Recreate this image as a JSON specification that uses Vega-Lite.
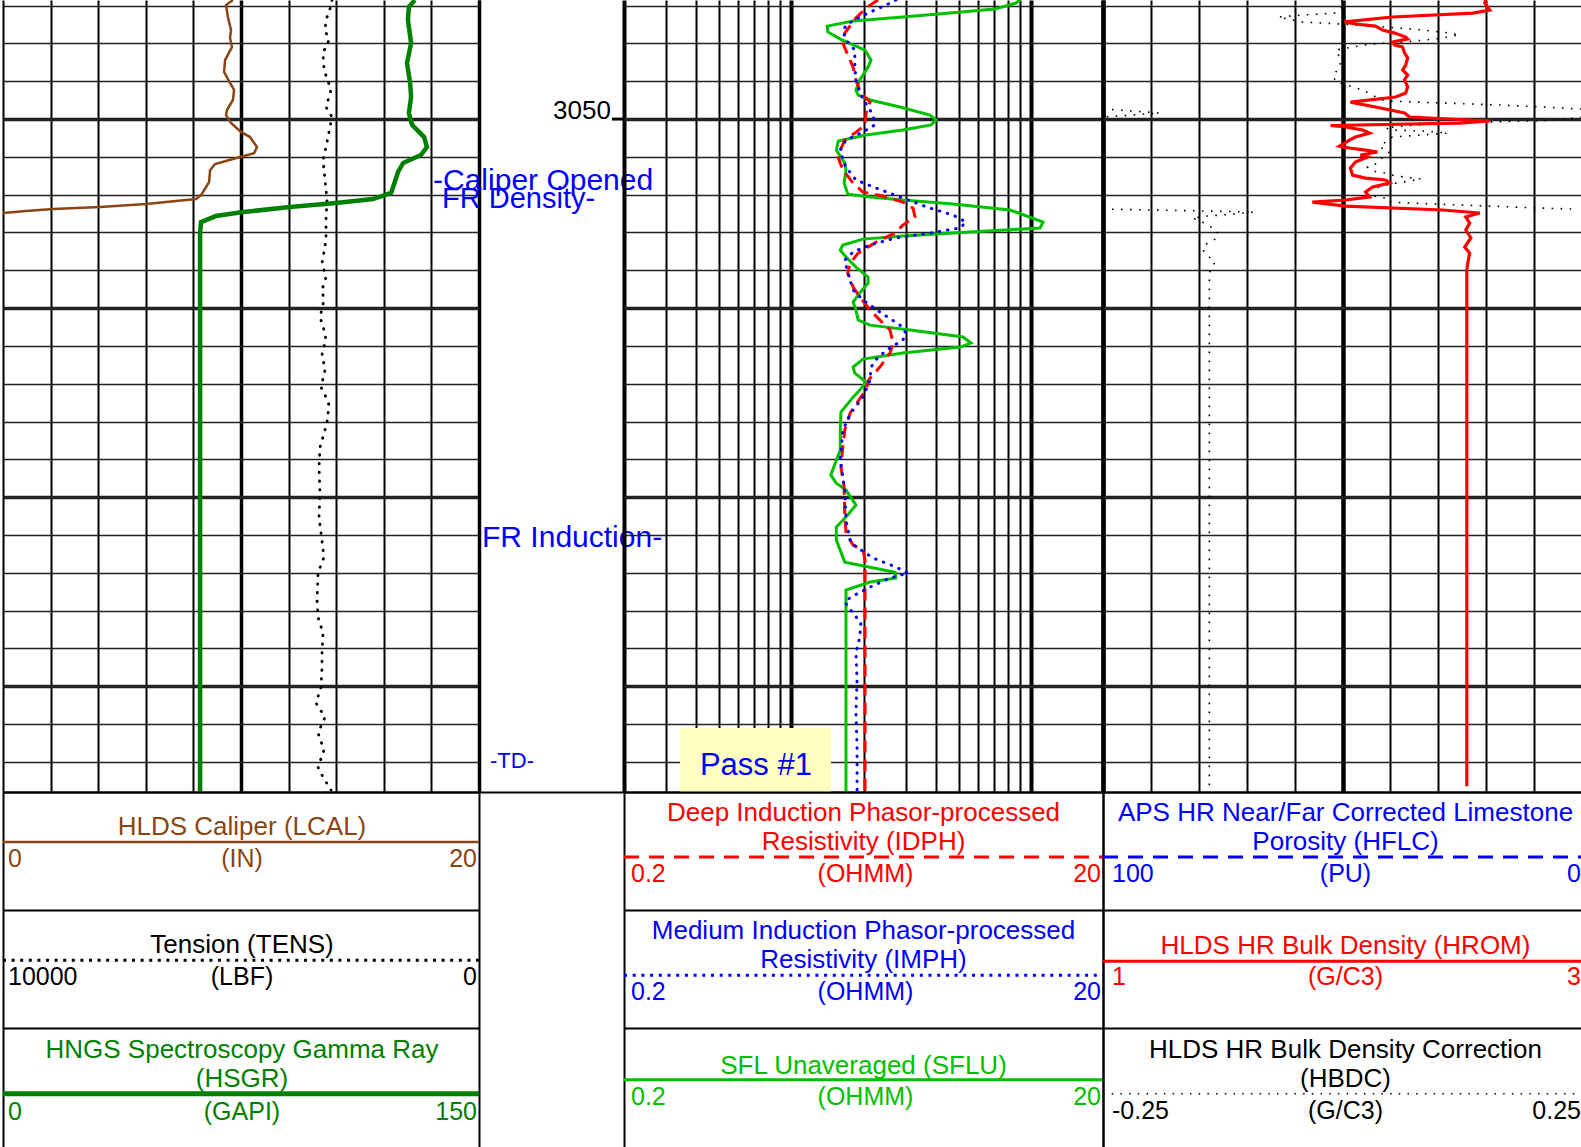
{
"$schema": "https://vega.github.io/schema/vega-lite/v6.json",
"background": "white",
"padding": 0,
"config": {"view": {"stroke": null}, "text": {"font": "Liberation Sans"}},
"datasets": {
"lcal": [{"depth":3043.70,"value":9.66},{"depth":3043.97,"value":9.37},{"depth":3044.60,"value":9.45},{"depth":3045.29,"value":9.58},{"depth":3045.71,"value":9.54},{"depth":3046.19,"value":9.62},{"depth":3046.88,"value":9.33},{"depth":3047.51,"value":9.29},{"depth":3048.09,"value":9.54},{"depth":3048.46,"value":9.71},{"depth":3048.99,"value":9.66},{"depth":3049.52,"value":9.41},{"depth":3049.79,"value":9.37},{"depth":3050.21,"value":9.58},{"depth":3050.68,"value":10.00},{"depth":3050.95,"value":10.38},{"depth":3051.48,"value":10.67},{"depth":3051.80,"value":10.55},{"depth":3052.01,"value":9.96},{"depth":3052.38,"value":8.91},{"depth":3052.70,"value":8.70},{"depth":3053.33,"value":8.66},{"depth":3054.02,"value":8.32},{"depth":3054.23,"value":8.11},{"depth":3054.49,"value":6.01},{"depth":3054.65,"value":4.08},{"depth":3054.76,"value":2.10},{"depth":3054.86,"value":0.97},{"depth":3054.97,"value":0.00}],
"hsgr": [{"depth":3043.70,"value":129.8},{"depth":3044.07,"value":127.9},{"depth":3044.76,"value":127.6},{"depth":3045.98,"value":128.6},{"depth":3047.03,"value":127.3},{"depth":3048.09,"value":128.3},{"depth":3048.83,"value":128.6},{"depth":3049.68,"value":127.9},{"depth":3050.31,"value":128.9},{"depth":3050.95,"value":132.7},{"depth":3051.48,"value":133.6},{"depth":3051.90,"value":131.7},{"depth":3052.32,"value":126.1},{"depth":3052.80,"value":124.5},{"depth":3053.91,"value":122.3},{"depth":3054.23,"value":116.6},{"depth":3054.44,"value":104.9},{"depth":3054.65,"value":90.4},{"depth":3054.92,"value":75.6},{"depth":3055.13,"value":67.1},{"depth":3055.45,"value":62.4},{"depth":3056.03,"value":62.1},{"depth":3085.60,"value":62.1}],
"tens": [{"depth":3043.70,"value":3090},{"depth":3043.86,"value":3088},{"depth":3044.76,"value":3214},{"depth":3045.29,"value":3235},{"depth":3045.82,"value":3151},{"depth":3046.50,"value":3277},{"depth":3047.40,"value":3256},{"depth":3048.46,"value":3109},{"depth":3049.36,"value":3214},{"depth":3049.89,"value":3088},{"depth":3050.42,"value":3130},{"depth":3051.48,"value":3214},{"depth":3052.17,"value":3277},{"depth":3053.22,"value":3235},{"depth":3054.28,"value":3193},{"depth":3055.34,"value":3214},{"depth":3056.40,"value":3214},{"depth":3057.62,"value":3298},{"depth":3058.36,"value":3214},{"depth":3059.04,"value":3298},{"depth":3059.57,"value":3256},{"depth":3060.47,"value":3340},{"depth":3061.16,"value":3256},{"depth":3061.69,"value":3214},{"depth":3062.38,"value":3298},{"depth":3063.28,"value":3235},{"depth":3064.18,"value":3319},{"depth":3064.71,"value":3214},{"depth":3065.13,"value":3151},{"depth":3066.03,"value":3193},{"depth":3066.45,"value":3235},{"depth":3067.35,"value":3340},{"depth":3068.41,"value":3361},{"depth":3069.79,"value":3340},{"depth":3071.05,"value":3361},{"depth":3071.90,"value":3319},{"depth":3073.17,"value":3256},{"depth":3074.02,"value":3382},{"depth":3075.45,"value":3403},{"depth":3076.35,"value":3382},{"depth":3077.19,"value":3277},{"depth":3078.25,"value":3298},{"depth":3078.99,"value":3298},{"depth":3080.05,"value":3319},{"depth":3080.90,"value":3424},{"depth":3081.64,"value":3235},{"depth":3082.48,"value":3382},{"depth":3083.38,"value":3256},{"depth":3084.28,"value":3382},{"depth":3084.81,"value":3277},{"depth":3085.50,"value":3109}],
"idph": [{"depth":3043.70,"value":2.30},{"depth":3043.81,"value":2.23},{"depth":3044.12,"value":2.05},{"depth":3044.65,"value":1.86},{"depth":3045.02,"value":1.77},{"depth":3045.45,"value":1.67},{"depth":3045.98,"value":1.64},{"depth":3046.61,"value":1.72},{"depth":3047.25,"value":1.81},{"depth":3047.93,"value":1.86},{"depth":3048.62,"value":1.95},{"depth":3049.10,"value":2.13},{"depth":3049.68,"value":2.05},{"depth":3050.31,"value":2.03},{"depth":3050.74,"value":1.84},{"depth":3051.11,"value":1.67},{"depth":3051.64,"value":1.60},{"depth":3052.06,"value":1.57},{"depth":3052.69,"value":1.64},{"depth":3053.38,"value":1.81},{"depth":3053.86,"value":1.99},{"depth":3054.07,"value":2.41},{"depth":3054.39,"value":2.92},{"depth":3054.71,"value":3.22},{"depth":3055.18,"value":3.28},{"depth":3055.61,"value":2.92},{"depth":3056.03,"value":2.71},{"depth":3056.50,"value":2.26},{"depth":3057.09,"value":1.90},{"depth":3057.62,"value":1.76},{"depth":3058.14,"value":1.72},{"depth":3058.89,"value":1.81},{"depth":3059.41,"value":1.93},{"depth":3060.10,"value":2.13},{"depth":3060.63,"value":2.34},{"depth":3061.16,"value":2.58},{"depth":3061.85,"value":2.66},{"depth":3062.38,"value":2.58},{"depth":3063.12,"value":2.34},{"depth":3063.81,"value":2.10},{"depth":3064.34,"value":2.05},{"depth":3064.71,"value":1.95},{"depth":3065.55,"value":1.76},{"depth":3066.45,"value":1.67},{"depth":3067.35,"value":1.64},{"depth":3068.41,"value":1.61},{"depth":3069.47,"value":1.66},{"depth":3070.84,"value":1.67},{"depth":3071.90,"value":1.69},{"depth":3072.54,"value":1.81},{"depth":3072.80,"value":1.99},{"depth":3073.33,"value":2.03},{"depth":3085.60,"value":2.03}],
"imph": [{"depth":3043.70,"value":2.73},{"depth":3043.97,"value":2.48},{"depth":3044.34,"value":2.13},{"depth":3044.60,"value":1.93},{"depth":3045.02,"value":1.69},{"depth":3045.39,"value":1.64},{"depth":3045.92,"value":1.72},{"depth":3046.35,"value":1.84},{"depth":3047.25,"value":1.84},{"depth":3047.93,"value":1.86},{"depth":3048.62,"value":1.93},{"depth":3049.36,"value":2.09},{"depth":3049.78,"value":2.19},{"depth":3050.31,"value":2.23},{"depth":3050.68,"value":1.99},{"depth":3051.11,"value":1.69},{"depth":3051.64,"value":1.60},{"depth":3052.17,"value":1.64},{"depth":3052.54,"value":1.69},{"depth":3053.22,"value":1.86},{"depth":3053.65,"value":2.26},{"depth":3054.18,"value":2.92},{"depth":3054.71,"value":3.79},{"depth":3055.08,"value":4.73},{"depth":3055.45,"value":5.36},{"depth":3055.76,"value":5.06},{"depth":3056.03,"value":3.79},{"depth":3056.29,"value":2.73},{"depth":3056.66,"value":2.13},{"depth":3057.03,"value":1.81},{"depth":3057.46,"value":1.67},{"depth":3058.14,"value":1.72},{"depth":3059.04,"value":1.81},{"depth":3059.57,"value":1.99},{"depth":3060.21,"value":2.34},{"depth":3060.90,"value":2.84},{"depth":3061.32,"value":3.01},{"depth":3061.69,"value":2.92},{"depth":3062.11,"value":2.58},{"depth":3062.59,"value":2.30},{"depth":3063.12,"value":2.15},{"depth":3063.81,"value":2.13},{"depth":3064.71,"value":1.99},{"depth":3065.55,"value":1.77},{"depth":3066.45,"value":1.64},{"depth":3068.04,"value":1.60},{"depth":3069.63,"value":1.67},{"depth":3071.21,"value":1.69},{"depth":3072.43,"value":1.77},{"depth":3073.22,"value":2.19},{"depth":3073.70,"value":2.73},{"depth":3074.02,"value":3.07},{"depth":3074.28,"value":2.58},{"depth":3074.76,"value":2.13},{"depth":3075.29,"value":1.77},{"depth":3075.55,"value":1.67},{"depth":3075.98,"value":1.77},{"depth":3076.66,"value":1.95},{"depth":3077.40,"value":1.93},{"depth":3078.25,"value":1.86},{"depth":3079.68,"value":1.88},{"depth":3081.43,"value":1.86},{"depth":3083.22,"value":1.88},{"depth":3085.60,"value":1.88}],
"sflu": [{"depth":3043.70,"value":9.00},{"depth":3043.86,"value":8.66},{"depth":3044.18,"value":7.08},{"depth":3044.39,"value":4.59},{"depth":3044.60,"value":2.92},{"depth":3044.81,"value":1.81},{"depth":3045.08,"value":1.41},{"depth":3045.39,"value":1.42},{"depth":3045.77,"value":1.60},{"depth":3046.35,"value":2.03},{"depth":3046.88,"value":2.15},{"depth":3047.25,"value":2.09},{"depth":3047.93,"value":1.93},{"depth":3048.46,"value":1.86},{"depth":3048.73,"value":1.90},{"depth":3048.99,"value":2.13},{"depth":3049.36,"value":2.84},{"depth":3049.79,"value":3.79},{"depth":3050.05,"value":4.02},{"depth":3050.31,"value":3.83},{"depth":3050.58,"value":2.92},{"depth":3050.84,"value":2.05},{"depth":3051.16,"value":1.57},{"depth":3051.64,"value":1.54},{"depth":3052.32,"value":1.67},{"depth":3052.70,"value":1.69},{"depth":3053.38,"value":1.66},{"depth":3053.97,"value":1.72},{"depth":3054.12,"value":2.13},{"depth":3054.28,"value":2.92},{"depth":3054.49,"value":4.73},{"depth":3054.81,"value":8.18},{"depth":3055.45,"value":11.24},{"depth":3055.76,"value":10.92},{"depth":3055.98,"value":5.57},{"depth":3056.19,"value":2.92},{"depth":3056.35,"value":1.99},{"depth":3056.66,"value":1.64},{"depth":3056.93,"value":1.60},{"depth":3057.30,"value":1.69},{"depth":3057.83,"value":1.86},{"depth":3058.36,"value":2.09},{"depth":3058.67,"value":2.09},{"depth":3059.20,"value":1.93},{"depth":3059.68,"value":1.81},{"depth":3060.10,"value":1.86},{"depth":3060.63,"value":1.90},{"depth":3060.90,"value":2.13},{"depth":3061.16,"value":3.13},{"depth":3061.53,"value":5.21},{"depth":3061.85,"value":5.62},{"depth":3062.06,"value":5.06},{"depth":3062.38,"value":2.92},{"depth":3062.70,"value":1.99},{"depth":3063.12,"value":1.81},{"depth":3063.44,"value":1.84},{"depth":3063.91,"value":2.05},{"depth":3064.34,"value":1.93},{"depth":3064.71,"value":1.81},{"depth":3065.50,"value":1.61},{"depth":3066.45,"value":1.60},{"depth":3067.51,"value":1.60},{"depth":3068.83,"value":1.46},{"depth":3069.26,"value":1.54},{"depth":3069.63,"value":1.69},{"depth":3070.42,"value":1.86},{"depth":3071.05,"value":1.69},{"depth":3071.58,"value":1.54},{"depth":3072.27,"value":1.54},{"depth":3073.44,"value":1.67},{"depth":3073.97,"value":2.71},{"depth":3074.28,"value":2.73},{"depth":3074.49,"value":2.13},{"depth":3074.92,"value":1.69},{"depth":3075.45,"value":1.69},{"depth":3085.60,"value":1.69}],
"hrom": [{"depth":3043.70,"value":2.598},{"depth":3043.86,"value":2.594},{"depth":3044.23,"value":2.615},{"depth":3044.39,"value":2.544},{"depth":3044.60,"value":2.209},{"depth":3044.86,"value":2.008},{"depth":3044.97,"value":2.054},{"depth":3045.08,"value":2.138},{"depth":3045.29,"value":2.167},{"depth":3045.45,"value":2.218},{"depth":3045.66,"value":2.264},{"depth":3045.76,"value":2.272},{"depth":3045.92,"value":2.209},{"depth":3046.08,"value":2.218},{"depth":3046.19,"value":2.251},{"depth":3046.50,"value":2.259},{"depth":3046.77,"value":2.272},{"depth":3047.14,"value":2.264},{"depth":3047.40,"value":2.251},{"depth":3047.67,"value":2.272},{"depth":3047.93,"value":2.259},{"depth":3048.30,"value":2.272},{"depth":3048.62,"value":2.264},{"depth":3048.83,"value":2.222},{"depth":3049.10,"value":2.033},{"depth":3049.36,"value":2.138},{"depth":3049.68,"value":2.259},{"depth":3049.89,"value":2.280},{"depth":3050.10,"value":2.615},{"depth":3050.21,"value":2.490},{"depth":3050.34,"value":1.950},{"depth":3050.42,"value":2.013},{"depth":3050.58,"value":2.084},{"depth":3050.74,"value":2.113},{"depth":3050.95,"value":2.054},{"depth":3051.11,"value":2.029},{"depth":3051.43,"value":1.987},{"depth":3051.53,"value":2.029},{"depth":3051.64,"value":2.096},{"depth":3051.74,"value":2.146},{"depth":3051.90,"value":2.075},{"depth":3052.01,"value":2.105},{"depth":3052.27,"value":2.054},{"depth":3052.59,"value":2.033},{"depth":3052.96,"value":2.042},{"depth":3053.12,"value":2.096},{"depth":3053.22,"value":2.180},{"depth":3053.38,"value":2.197},{"depth":3053.59,"value":2.126},{"depth":3053.86,"value":2.096},{"depth":3054.12,"value":2.113},{"depth":3054.28,"value":2.013},{"depth":3054.39,"value":1.874},{"depth":3054.60,"value":2.013},{"depth":3054.81,"value":2.418},{"depth":3054.97,"value":2.573},{"depth":3055.18,"value":2.515},{"depth":3055.50,"value":2.531},{"depth":3055.87,"value":2.515},{"depth":3056.29,"value":2.536},{"depth":3056.77,"value":2.510},{"depth":3057.09,"value":2.531},{"depth":3057.62,"value":2.523},{"depth":3057.99,"value":2.519},{"depth":3085.29,"value":2.519}],
"hbdc": [{"seg":"a","depth":3043.70,"value":-0.001},{"seg":"a","depth":3043.97,"value":0.002},{"seg":"a","depth":3044.39,"value":-0.007},{"seg":"a","depth":3044.49,"value":-0.040},{"seg":"a","depth":3044.60,"value":-0.067},{"seg":"a","depth":3044.65,"value":-0.063},{"seg":"a","depth":3044.86,"value":-0.042},{"seg":"a","depth":3044.97,"value":-0.002},{"seg":"a","depth":3045.13,"value":0.045},{"seg":"a","depth":3045.29,"value":0.084},{"seg":"a","depth":3045.45,"value":0.112},{"seg":"a","depth":3045.55,"value":0.122},{"seg":"a","depth":3045.76,"value":0.097},{"seg":"a","depth":3045.92,"value":0.065},{"seg":"a","depth":3046.03,"value":0.029},{"seg":"a","depth":3046.19,"value":0.010},{"seg":"a","depth":3046.35,"value":-0.007},{"seg":"a","depth":3046.72,"value":-0.003},{"seg":"a","depth":3047.03,"value":-0.002},{"seg":"a","depth":3047.40,"value":-0.005},{"seg":"a","depth":3047.67,"value":-0.010},{"seg":"a","depth":3048.04,"value":-0.007},{"seg":"a","depth":3048.20,"value":0.005},{"seg":"a","depth":3048.46,"value":0.021},{"seg":"a","depth":3048.89,"value":0.037},{"seg":"a","depth":3049.04,"value":0.045},{"seg":"a","depth":3049.15,"value":0.105},{"seg":"a","depth":3049.26,"value":0.167},{"seg":"a","depth":3049.36,"value":0.209},{"seg":"a","depth":3049.47,"value":0.249},
{"seg":"b","depth":3049.47,"value":-0.25},{"seg":"b","depth":3049.57,"value":-0.220},{"seg":"b","depth":3049.68,"value":-0.191},{"seg":"b","depth":3049.79,"value":-0.220},{"seg":"b","depth":3049.89,"value":-0.25},
{"seg":"c","depth":3049.89,"value":0.25},{"seg":"c","depth":3050.05,"value":0.230},{"seg":"c","depth":3050.16,"value":0.146},{"seg":"c","depth":3050.26,"value":0.094},{"seg":"c","depth":3050.37,"value":0.063},{"seg":"c","depth":3050.47,"value":0.045},{"seg":"c","depth":3050.58,"value":0.052},{"seg":"c","depth":3050.63,"value":0.084},{"seg":"c","depth":3050.74,"value":0.110},{"seg":"c","depth":3050.84,"value":0.084},{"seg":"c","depth":3050.95,"value":0.052},{"seg":"c","depth":3051.11,"value":0.047},{"seg":"c","depth":3051.48,"value":0.039},{"seg":"c","depth":3051.74,"value":0.049},{"seg":"c","depth":3052.01,"value":0.042},{"seg":"c","depth":3052.32,"value":0.037},{"seg":"c","depth":3052.54,"value":0.026},{"seg":"c","depth":3052.75,"value":0.031},{"seg":"c","depth":3052.85,"value":0.044},{"seg":"c","depth":3053.01,"value":0.055},{"seg":"c","depth":3053.17,"value":0.082},{"seg":"c","depth":3053.44,"value":0.050},{"seg":"c","depth":3053.59,"value":0.039},{"seg":"c","depth":3053.75,"value":0.023},{"seg":"c","depth":3054.02,"value":0.028},{"seg":"c","depth":3054.12,"value":0.037},{"seg":"c","depth":3054.18,"value":0.045},{"seg":"c","depth":3054.39,"value":0.047},{"seg":"c","depth":3054.49,"value":0.094},{"seg":"c","depth":3054.63,"value":0.167},{"seg":"c","depth":3054.71,"value":0.209},{"seg":"c","depth":3054.76,"value":0.241},
{"seg":"d","depth":3054.76,"value":-0.25},{"seg":"d","depth":3054.81,"value":-0.199},{"seg":"d","depth":3054.86,"value":-0.146},{"seg":"d","depth":3054.92,"value":-0.092},{"seg":"d","depth":3055.03,"value":-0.115},{"seg":"d","depth":3055.13,"value":-0.141},{"seg":"d","depth":3055.24,"value":-0.157},{"seg":"d","depth":3055.34,"value":-0.150},{"seg":"d","depth":3055.66,"value":-0.139},{"seg":"d","depth":3055.82,"value":-0.133},{"seg":"d","depth":3056.13,"value":-0.129},{"seg":"d","depth":3056.35,"value":-0.133},{"seg":"d","depth":3056.56,"value":-0.141},{"seg":"d","depth":3056.82,"value":-0.146},{"seg":"d","depth":3057.09,"value":-0.144},{"seg":"d","depth":3057.30,"value":-0.139},{"seg":"d","depth":3057.56,"value":-0.133},{"seg":"d","depth":3057.83,"value":-0.136},{"seg":"d","depth":3058.14,"value":-0.139},{"seg":"d","depth":3085.29,"value":-0.139}]
},
"columns": 4,
"spacing": 0,
"bounds": "flush",
"resolve": {"scale": {"color": "independent", "strokeDash": "independent", "strokeWidth": "independent"}},
"concat": [
 {"width": 476, "height": 792,
  "resolve": {"scale": {"x": "independent"}},
  "layer": [
   {"data": {"name": "tens"}, "mark": {"type": "line", "color": "black", "strokeWidth": 2.8, "strokeDash": [0.5, 8.2], "strokeCap": "round", "clip": true},
    "encoding": {
     "x": {"field": "value", "type": "quantitative", "scale": {"domain": [0, 10000], "reverse": true, "nice": false, "zero": false}, "axis": {"orient": "bottom", "values": [0, 1000, 2000, 3000, 4000, 5000, 6000, 7000, 8000, 9000, 10000], "tickCount": 100, "grid": true, "gridColor": "black", "gridWidth": {"condition": {"test": "datum.value === 5000 || datum.value === 0", "value": 3.5}, "value": 2}, "domain": true, "domainColor": "black", "domainWidth": 2, "ticks": false, "labels": false, "title": null}},
     "y": {"field": "depth", "type": "quantitative", "scale": {"domain": [3043.7, 3085.6], "reverse": true, "nice": false, "zero": false}, "axis": {"values": [3044,3046,3048,3050,3052,3054,3056,3058,3060,3062,3064,3066,3068,3070,3072,3074,3076,3078,3080,3082,3084], "tickCount": 100, "grid": true, "gridColor": "#222222", "gridWidth": {"condition": {"test": "datum.value % 10 === 0", "value": 3.5}, "value": 1.5}, "domain": false, "ticks": false, "labels": false, "title": null}},
     "order": {"field": "depth", "type": "quantitative"}}},
   {"data": {"name": "lcal"}, "mark": {"type": "line", "color": "#8B4513", "strokeWidth": 2.5, "clip": true},
    "encoding": {
     "x": {"field": "value", "type": "quantitative", "scale": {"domain": [0, 20], "nice": false, "zero": false}, "axis": null},
     "y": {"field": "depth", "type": "quantitative", "scale": {"domain": [3043.7, 3085.6], "reverse": true, "nice": false, "zero": false}, "axis": {"values": [3044,3046,3048,3050,3052,3054,3056,3058,3060,3062,3064,3066,3068,3070,3072,3074,3076,3078,3080,3082,3084], "tickCount": 100, "grid": true, "gridColor": "#222222", "gridWidth": {"condition": {"test": "datum.value % 10 === 0", "value": 3.5}, "value": 1.5}, "domain": false, "ticks": false, "labels": false, "title": null}},
     "order": {"field": "depth", "type": "quantitative"}}},
   {"data": {"name": "hsgr"}, "mark": {"type": "line", "color": "#008000", "strokeWidth": 4.5, "clip": true},
    "encoding": {
     "x": {"field": "value", "type": "quantitative", "scale": {"domain": [0, 150], "nice": false, "zero": false}, "axis": null},
     "y": {"field": "depth", "type": "quantitative", "scale": {"domain": [3043.7, 3085.6], "reverse": true, "nice": false, "zero": false}, "axis": {"values": [3044,3046,3048,3050,3052,3054,3056,3058,3060,3062,3064,3066,3068,3070,3072,3074,3076,3078,3080,3082,3084], "tickCount": 100, "grid": true, "gridColor": "#222222", "gridWidth": {"condition": {"test": "datum.value % 10 === 0", "value": 3.5}, "value": 1.5}, "domain": false, "ticks": false, "labels": false, "title": null}},
     "order": {"field": "depth", "type": "quantitative"}}}
  ]},
 {"width": 145, "height": 792,
  "layer": [
   {"data": {"values": [{"depth": 3050, "label": "3050"}]},
    "mark": {"type": "rule", "color": "black", "strokeWidth": 3},
    "encoding": {
     "x": {"datum": 0.917, "type": "quantitative", "scale": {"domain": [0, 1], "nice": false, "zero": false}, "axis": {"values": [0], "tickCount": 100, "grid": true, "gridColor": "black", "gridWidth": 3, "domain": true, "domainColor": "black", "domainWidth": 2, "ticks": false, "labels": false, "title": null}},
     "x2": {"datum": 1},
     "y": {"field": "depth", "type": "quantitative", "scale": {"domain": [3043.7, 3085.6], "reverse": true, "nice": false, "zero": false}, "axis": null}}},
   {"data": {"values": [{"depth": 3050, "label": "3050"}]},
    "mark": {"type": "text", "align": "right", "baseline": "alphabetic", "fontSize": 26, "color": "black"},
    "encoding": {
     "x": {"datum": 0.91, "type": "quantitative", "scale": {"domain": [0, 1], "nice": false, "zero": false}, "axis": {"values": [0], "tickCount": 100, "grid": true, "gridColor": "black", "gridWidth": 3, "domain": true, "domainColor": "black", "domainWidth": 2, "ticks": false, "labels": false, "title": null}},
     "y": {"field": "depth", "type": "quantitative", "scale": {"domain": [3043.7, 3085.6], "reverse": true, "nice": false, "zero": false}, "axis": null},
     "text": {"field": "label"}}},
   {"data": {"values": [{"remark": "-Caliper Opened", "depth": 3053.75}]},
    "mark": {"type": "text", "align": "left", "baseline": "alphabetic", "fontSize": 30, "color": "#0000ff"},
    "encoding": {
     "x": {"datum": -0.317, "type": "quantitative", "scale": {"domain": [0, 1], "nice": false, "zero": false}, "axis": {"values": [0], "tickCount": 100, "grid": true, "gridColor": "black", "gridWidth": 3, "domain": true, "domainColor": "black", "domainWidth": 2, "ticks": false, "labels": false, "title": null}},
     "y": {"field": "depth", "type": "quantitative", "scale": {"domain": [3043.7, 3085.6], "reverse": true, "nice": false, "zero": false}, "axis": null},
     "text": {"field": "remark"}}},
   {"data": {"values": [{"remark": "FR Density-", "depth": 3054.71}]},
    "mark": {"type": "text", "align": "left", "baseline": "alphabetic", "fontSize": 29, "color": "#0000ff"},
    "encoding": {
     "x": {"datum": -0.255, "type": "quantitative", "scale": {"domain": [0, 1], "nice": false, "zero": false}, "axis": {"values": [0], "tickCount": 100, "grid": true, "gridColor": "black", "gridWidth": 3, "domain": true, "domainColor": "black", "domainWidth": 2, "ticks": false, "labels": false, "title": null}},
     "y": {"field": "depth", "type": "quantitative", "scale": {"domain": [3043.7, 3085.6], "reverse": true, "nice": false, "zero": false}, "axis": null},
     "text": {"field": "remark"}}},
   {"data": {"values": [{"remark": "FR Induction-", "depth": 3072.63}]},
    "mark": {"type": "text", "align": "left", "baseline": "alphabetic", "fontSize": 30, "color": "#0000ff"},
    "encoding": {
     "x": {"datum": 0.021, "type": "quantitative", "scale": {"domain": [0, 1], "nice": false, "zero": false}, "axis": {"values": [0], "tickCount": 100, "grid": true, "gridColor": "black", "gridWidth": 3, "domain": true, "domainColor": "black", "domainWidth": 2, "ticks": false, "labels": false, "title": null}},
     "y": {"field": "depth", "type": "quantitative", "scale": {"domain": [3043.7, 3085.6], "reverse": true, "nice": false, "zero": false}, "axis": null},
     "text": {"field": "remark"}}},
   {"data": {"values": [{"remark": "-TD-", "depth": 3084.35}]},
    "mark": {"type": "text", "align": "left", "baseline": "alphabetic", "fontSize": 22, "color": "#0000ff"},
    "encoding": {
     "x": {"datum": 0.076, "type": "quantitative", "scale": {"domain": [0, 1], "nice": false, "zero": false}, "axis": {"values": [0], "tickCount": 100, "grid": true, "gridColor": "black", "gridWidth": 3, "domain": true, "domainColor": "black", "domainWidth": 2, "ticks": false, "labels": false, "title": null}},
     "y": {"field": "depth", "type": "quantitative", "scale": {"domain": [3043.7, 3085.6], "reverse": true, "nice": false, "zero": false}, "axis": null},
     "text": {"field": "remark"}}}
  ]},
 {"width": 479, "height": 792,
  "layer": [
   {"data": {"values": [{"pass": "Pass #1"}]},
    "mark": {"type": "rect", "color": "#ffffc0"},
    "encoding": {
     "x": {"datum": 0.343, "type": "quantitative", "scale": {"type": "log", "domain": [0.2, 20], "nice": false}, "axis": {"orient": "bottom", "values": [0.2, 0.3, 0.4, 0.5, 0.6, 0.7, 0.8, 0.9, 1, 2, 3, 4, 5, 6, 7, 8, 9, 10, 20], "tickCount": 100, "grid": true, "gridColor": "black", "gridWidth": {"condition": {"test": "datum.value === 0.2 || datum.value === 1 || datum.value === 10 || datum.value === 20", "value": 4}, "value": 2}, "domain": true, "domainColor": "black", "domainWidth": 2, "ticks": false, "labels": false, "title": null}},
     "x2": {"datum": 1.464},
     "y": {"datum": 3082.22, "type": "quantitative", "scale": {"domain": [3043.7, 3085.6], "reverse": true, "nice": false, "zero": false}, "axis": {"values": [3044,3046,3048,3050,3052,3054,3056,3058,3060,3062,3064,3066,3068,3070,3072,3074,3076,3078,3080,3082,3084], "tickCount": 100, "grid": true, "gridColor": "#222222", "gridWidth": {"condition": {"test": "datum.value % 10 === 0", "value": 3.5}, "value": 1.5}, "domain": false, "ticks": false, "labels": false, "title": null}},
     "y2": {"datum": 3085.6}}},
   {"data": {"name": "sflu"}, "mark": {"type": "line", "color": "#00c000", "strokeWidth": 3, "clip": true},
    "encoding": {
     "x": {"field": "value", "type": "quantitative", "scale": {"type": "log", "domain": [0.2, 20], "nice": false}, "axis": {"orient": "bottom", "values": [0.2, 0.3, 0.4, 0.5, 0.6, 0.7, 0.8, 0.9, 1, 2, 3, 4, 5, 6, 7, 8, 9, 10, 20], "tickCount": 100, "grid": true, "gridColor": "black", "gridWidth": {"condition": {"test": "datum.value === 0.2 || datum.value === 1 || datum.value === 10 || datum.value === 20", "value": 4}, "value": 2}, "domain": true, "domainColor": "black", "domainWidth": 2, "ticks": false, "labels": false, "title": null}},
     "y": {"field": "depth", "type": "quantitative", "scale": {"domain": [3043.7, 3085.6], "reverse": true, "nice": false, "zero": false}, "axis": {"values": [3044,3046,3048,3050,3052,3054,3056,3058,3060,3062,3064,3066,3068,3070,3072,3074,3076,3078,3080,3082,3084], "tickCount": 100, "grid": true, "gridColor": "#222222", "gridWidth": {"condition": {"test": "datum.value % 10 === 0", "value": 3.5}, "value": 1.5}, "domain": false, "ticks": false, "labels": false, "title": null}},
     "order": {"field": "depth", "type": "quantitative"}}},
   {"data": {"values": [{"pass": "Pass #1"}]},
    "mark": {"type": "text", "align": "center", "baseline": "alphabetic", "fontSize": 31, "color": "#0000ff"},
    "encoding": {
     "x": {"datum": 0.711, "type": "quantitative", "scale": {"type": "log", "domain": [0.2, 20], "nice": false}, "axis": {"orient": "bottom", "values": [0.2, 0.3, 0.4, 0.5, 0.6, 0.7, 0.8, 0.9, 1, 2, 3, 4, 5, 6, 7, 8, 9, 10, 20], "tickCount": 100, "grid": true, "gridColor": "black", "gridWidth": {"condition": {"test": "datum.value === 0.2 || datum.value === 1 || datum.value === 10 || datum.value === 20", "value": 4}, "value": 2}, "domain": true, "domainColor": "black", "domainWidth": 2, "ticks": false, "labels": false, "title": null}},
     "y": {"datum": 3084.71, "type": "quantitative", "scale": {"domain": [3043.7, 3085.6], "reverse": true, "nice": false, "zero": false}, "axis": {"values": [3044,3046,3048,3050,3052,3054,3056,3058,3060,3062,3064,3066,3068,3070,3072,3074,3076,3078,3080,3082,3084], "tickCount": 100, "grid": true, "gridColor": "#222222", "gridWidth": {"condition": {"test": "datum.value % 10 === 0", "value": 3.5}, "value": 1.5}, "domain": false, "ticks": false, "labels": false, "title": null}},
     "text": {"field": "pass"}}},
   {"data": {"name": "idph"}, "mark": {"type": "line", "color": "#ff0000", "strokeWidth": 3, "strokeDash": [12, 7], "clip": true},
    "encoding": {
     "x": {"field": "value", "type": "quantitative", "scale": {"type": "log", "domain": [0.2, 20], "nice": false}, "axis": {"orient": "bottom", "values": [0.2, 0.3, 0.4, 0.5, 0.6, 0.7, 0.8, 0.9, 1, 2, 3, 4, 5, 6, 7, 8, 9, 10, 20], "tickCount": 100, "grid": true, "gridColor": "black", "gridWidth": {"condition": {"test": "datum.value === 0.2 || datum.value === 1 || datum.value === 10 || datum.value === 20", "value": 4}, "value": 2}, "domain": true, "domainColor": "black", "domainWidth": 2, "ticks": false, "labels": false, "title": null}},
     "y": {"field": "depth", "type": "quantitative", "scale": {"domain": [3043.7, 3085.6], "reverse": true, "nice": false, "zero": false}, "axis": {"values": [3044,3046,3048,3050,3052,3054,3056,3058,3060,3062,3064,3066,3068,3070,3072,3074,3076,3078,3080,3082,3084], "tickCount": 100, "grid": true, "gridColor": "#222222", "gridWidth": {"condition": {"test": "datum.value % 10 === 0", "value": 3.5}, "value": 1.5}, "domain": false, "ticks": false, "labels": false, "title": null}},
     "order": {"field": "depth", "type": "quantitative"}}},
   {"data": {"name": "imph"}, "mark": {"type": "line", "color": "#0000ff", "strokeWidth": 3, "strokeDash": [0.5, 7.8], "strokeCap": "round", "clip": true},
    "encoding": {
     "x": {"field": "value", "type": "quantitative", "scale": {"type": "log", "domain": [0.2, 20], "nice": false}, "axis": {"orient": "bottom", "values": [0.2, 0.3, 0.4, 0.5, 0.6, 0.7, 0.8, 0.9, 1, 2, 3, 4, 5, 6, 7, 8, 9, 10, 20], "tickCount": 100, "grid": true, "gridColor": "black", "gridWidth": {"condition": {"test": "datum.value === 0.2 || datum.value === 1 || datum.value === 10 || datum.value === 20", "value": 4}, "value": 2}, "domain": true, "domainColor": "black", "domainWidth": 2, "ticks": false, "labels": false, "title": null}},
     "y": {"field": "depth", "type": "quantitative", "scale": {"domain": [3043.7, 3085.6], "reverse": true, "nice": false, "zero": false}, "axis": {"values": [3044,3046,3048,3050,3052,3054,3056,3058,3060,3062,3064,3066,3068,3070,3072,3074,3076,3078,3080,3082,3084], "tickCount": 100, "grid": true, "gridColor": "#222222", "gridWidth": {"condition": {"test": "datum.value % 10 === 0", "value": 3.5}, "value": 1.5}, "domain": false, "ticks": false, "labels": false, "title": null}},
     "order": {"field": "depth", "type": "quantitative"}}}
  ]},
 {"width": 479, "height": 792,
  "resolve": {"scale": {"x": "independent"}},
  "layer": [
   {"data": {"name": "hbdc"}, "mark": {"type": "line", "color": "black", "strokeWidth": 1.6, "strokeDash": [1.6, 7.4], "clip": true},
    "encoding": {
     "x": {"field": "value", "type": "quantitative", "scale": {"domain": [-0.25, 0.25], "nice": false, "zero": false}, "axis": {"orient": "bottom", "values": [-0.25, -0.2, -0.15, -0.1, -0.05, 0, 0.05, 0.1, 0.15, 0.2, 0.25], "tickCount": 100, "grid": true, "gridColor": "black", "gridWidth": {"condition": {"test": "datum.value === -0.25 || datum.value === 0", "value": 4.5}, "value": 2}, "domain": true, "domainColor": "black", "domainWidth": 2, "ticks": false, "labels": false, "title": null}},
     "y": {"field": "depth", "type": "quantitative", "scale": {"domain": [3043.7, 3085.6], "reverse": true, "nice": false, "zero": false}, "axis": {"values": [3044,3046,3048,3050,3052,3054,3056,3058,3060,3062,3064,3066,3068,3070,3072,3074,3076,3078,3080,3082,3084], "tickCount": 100, "grid": true, "gridColor": "#222222", "gridWidth": {"condition": {"test": "datum.value % 10 === 0", "value": 3.5}, "value": 1.5}, "domain": false, "ticks": false, "labels": false, "title": null}},
     "detail": {"field": "seg", "type": "nominal"},
     "order": {"field": "depth", "type": "quantitative"}}},
   {"data": {"name": "hrom"}, "mark": {"type": "line", "color": "#ff0000", "strokeWidth": 3.2, "clip": true},
    "encoding": {
     "x": {"field": "value", "type": "quantitative", "scale": {"domain": [1, 3], "nice": false, "zero": false}, "axis": null},
     "y": {"field": "depth", "type": "quantitative", "scale": {"domain": [3043.7, 3085.6], "reverse": true, "nice": false, "zero": false}, "axis": {"values": [3044,3046,3048,3050,3052,3054,3056,3058,3060,3062,3064,3066,3068,3070,3072,3074,3076,3078,3080,3082,3084], "tickCount": 100, "grid": true, "gridColor": "#222222", "gridWidth": {"condition": {"test": "datum.value % 10 === 0", "value": 3.5}, "value": 1.5}, "domain": false, "ticks": false, "labels": false, "title": null}},
     "order": {"field": "depth", "type": "quantitative"}}}
  ]},
 {"width": 476, "height": 355,
  "data": {"values": [
   {"curve": "LCAL", "name": "HLDS Caliper (LCAL)", "unit": "(IN)", "lo": "0", "hi": "20"},
   {"curve": "TENS", "name": "Tension (TENS)", "unit": "(LBF)", "lo": "10000", "hi": "0"},
   {"curve": "HSGR", "name": "HNGS Spectroscopy Gamma Ray\n(HSGR)", "unit": "(GAPI)", "lo": "0", "hi": "150"}]},
  "encoding": {
   "y": {"field": "curve", "type": "nominal", "bandPosition": 0, "scale": {"domain": ["LCAL", "TENS", "HSGR"], "paddingInner": 0, "paddingOuter": 0}, "axis": {"bandPosition": 0, "grid": true, "gridColor": "black", "gridWidth": 2, "domain": false, "ticks": false, "labels": false, "title": null}},
   "color": {"field": "curve", "type": "nominal", "scale": {"domain": ["LCAL", "TENS", "HSGR"], "range": ["#8B4513", "#000000", "#008000"]}, "legend": null}
  },
  "layer": [
   {"transform": [{"filter": "indexof(datum.name, '\\n') < 0"}],
    "mark": {"type": "rule", "yOffset": 50, "strokeCap": "butt"},
    "encoding": {
     "x": {"datum": 0, "type": "quantitative", "scale": {"domain": [0, 1], "nice": false, "zero": false}, "axis": {"values": [0, 1], "grid": true, "gridColor": "black", "gridWidth": 2, "domain": false, "ticks": false, "labels": false, "title": null}},
     "x2": {"datum": 1},
     "strokeDash": {"field": "curve", "type": "nominal", "scale": {"domain": ["LCAL", "TENS", "HSGR"], "range": [[1, 0], [3, 5.6], [1, 0]]}, "legend": null},
     "strokeWidth": {"field": "curve", "type": "nominal", "scale": {"type": "ordinal", "domain": ["LCAL", "TENS", "HSGR"], "range": [2.5, 3, 5]}, "legend": null}}},
   {"transform": [{"filter": "indexof(datum.name, '\\n') >= 0"}],
    "mark": {"type": "rule", "yOffset": 65, "strokeCap": "butt"},
    "encoding": {
     "x": {"datum": 0, "type": "quantitative", "scale": {"domain": [0, 1], "nice": false, "zero": false}},
     "x2": {"datum": 1},
     "strokeDash": {"field": "curve", "type": "nominal", "scale": {"domain": ["LCAL", "TENS", "HSGR"], "range": [[1, 0], [3, 5.6], [1, 0]]}, "legend": null},
     "strokeWidth": {"field": "curve", "type": "nominal", "scale": {"type": "ordinal", "domain": ["LCAL", "TENS", "HSGR"], "range": [2.5, 3, 5]}, "legend": null}}},
   {"transform": [{"filter": "indexof(datum.name, '\\n') < 0"}],
    "mark": {"type": "text", "align": "center", "baseline": "middle", "fontSize": 26, "yOffset": 35, "dx": 1},
    "encoding": {"x": {"datum": 0.5, "type": "quantitative", "scale": {"domain": [0, 1], "nice": false, "zero": false}}, "text": {"field": "name"}}},
   {"transform": [{"filter": "indexof(datum.name, '\\n') >= 0"}],
    "mark": {"type": "text", "align": "center", "baseline": "middle", "fontSize": 26, "lineHeight": 29, "lineBreak": "\n", "yOffset": 21, "dx": 1},
    "encoding": {"x": {"datum": 0.5, "type": "quantitative", "scale": {"domain": [0, 1], "nice": false, "zero": false}}, "text": {"field": "name"}}},
   {"transform": [{"filter": "indexof(datum.name, '\\n') < 0"}],
    "mark": {"type": "text", "align": "left", "baseline": "middle", "fontSize": 25, "yOffset": 67, "dx": 5},
    "encoding": {"x": {"datum": 0, "type": "quantitative", "scale": {"domain": [0, 1], "nice": false, "zero": false}}, "text": {"field": "lo"}}},
   {"transform": [{"filter": "indexof(datum.name, '\\n') < 0"}],
    "mark": {"type": "text", "align": "center", "baseline": "middle", "fontSize": 25, "yOffset": 67, "dx": 1},
    "encoding": {"x": {"datum": 0.5, "type": "quantitative", "scale": {"domain": [0, 1], "nice": false, "zero": false}}, "text": {"field": "unit"}}},
   {"transform": [{"filter": "indexof(datum.name, '\\n') < 0"}],
    "mark": {"type": "text", "align": "right", "baseline": "middle", "fontSize": 25, "yOffset": 67, "dx": -2},
    "encoding": {"x": {"datum": 1, "type": "quantitative", "scale": {"domain": [0, 1], "nice": false, "zero": false}}, "text": {"field": "hi"}}},
   {"transform": [{"filter": "indexof(datum.name, '\\n') >= 0"}],
    "mark": {"type": "text", "align": "left", "baseline": "middle", "fontSize": 25, "yOffset": 83, "dx": 5},
    "encoding": {"x": {"datum": 0, "type": "quantitative", "scale": {"domain": [0, 1], "nice": false, "zero": false}}, "text": {"field": "lo"}}},
   {"transform": [{"filter": "indexof(datum.name, '\\n') >= 0"}],
    "mark": {"type": "text", "align": "center", "baseline": "middle", "fontSize": 25, "yOffset": 83, "dx": 1},
    "encoding": {"x": {"datum": 0.5, "type": "quantitative", "scale": {"domain": [0, 1], "nice": false, "zero": false}}, "text": {"field": "unit"}}},
   {"transform": [{"filter": "indexof(datum.name, '\\n') >= 0"}],
    "mark": {"type": "text", "align": "right", "baseline": "middle", "fontSize": 25, "yOffset": 83, "dx": -2},
    "encoding": {"x": {"datum": 1, "type": "quantitative", "scale": {"domain": [0, 1], "nice": false, "zero": false}}, "text": {"field": "hi"}}}
  ]},
 {"width": 145, "height": 355,
  "data": {"values": [{"blank": 1}]},
  "mark": {"type": "rule", "opacity": 0},
  "encoding": {}},
 {"width": 479, "height": 355,
  "data": {"values": [
   {"curve": "IDPH", "name": "Deep Induction Phasor-processed\nResistivity (IDPH)", "unit": "(OHMM)", "lo": "0.2", "hi": "20"},
   {"curve": "IMPH", "name": "Medium Induction Phasor-processed\nResistivity (IMPH)", "unit": "(OHMM)", "lo": "0.2", "hi": "20"},
   {"curve": "SFLU", "name": "SFL Unaveraged (SFLU)", "unit": "(OHMM)", "lo": "0.2", "hi": "20"}]},
  "encoding": {
   "y": {"field": "curve", "type": "nominal", "bandPosition": 0, "scale": {"domain": ["IDPH", "IMPH", "SFLU"], "paddingInner": 0, "paddingOuter": 0}, "axis": {"bandPosition": 0, "grid": true, "gridColor": "black", "gridWidth": 2, "domain": false, "ticks": false, "labels": false, "title": null}},
   "color": {"field": "curve", "type": "nominal", "scale": {"domain": ["IDPH", "IMPH", "SFLU"], "range": ["#ff0000", "#0000ff", "#00c000"]}, "legend": null}
  },
  "layer": [
   {"transform": [{"filter": "indexof(datum.name, '\\n') < 0"}],
    "mark": {"type": "rule", "yOffset": 51, "strokeCap": "butt"},
    "encoding": {
     "x": {"datum": 0, "type": "quantitative", "scale": {"domain": [0, 1], "nice": false, "zero": false}, "axis": {"values": [0, 1], "grid": true, "gridColor": "black", "gridWidth": 2, "domain": false, "ticks": false, "labels": false, "title": null}},
     "x2": {"datum": 1},
     "strokeDash": {"field": "curve", "type": "nominal", "scale": {"domain": ["IDPH", "IMPH", "SFLU"], "range": [[15, 10], [3, 5.7], [1, 0]]}, "legend": null},
     "strokeWidth": {"field": "curve", "type": "nominal", "scale": {"type": "ordinal", "domain": ["IDPH", "IMPH", "SFLU"], "range": [3, 3, 3]}, "legend": null}}},
   {"transform": [{"filter": "indexof(datum.name, '\\n') >= 0"}],
    "mark": {"type": "rule", "yOffset": 65, "strokeCap": "butt"},
    "encoding": {
     "x": {"datum": 0, "type": "quantitative", "scale": {"domain": [0, 1], "nice": false, "zero": false}},
     "x2": {"datum": 1},
     "strokeDash": {"field": "curve", "type": "nominal", "scale": {"domain": ["IDPH", "IMPH", "SFLU"], "range": [[15, 10], [3, 5.7], [1, 0]]}, "legend": null},
     "strokeWidth": {"field": "curve", "type": "nominal", "scale": {"type": "ordinal", "domain": ["IDPH", "IMPH", "SFLU"], "range": [3, 3, 3]}, "legend": null}}},
   {"transform": [{"filter": "indexof(datum.name, '\\n') < 0"}],
    "mark": {"type": "text", "align": "center", "baseline": "middle", "fontSize": 26, "yOffset": 37, "dx": 0},
    "encoding": {"x": {"datum": 0.5, "type": "quantitative", "scale": {"domain": [0, 1], "nice": false, "zero": false}}, "text": {"field": "name"}}},
   {"transform": [{"filter": "indexof(datum.name, '\\n') >= 0"}],
    "mark": {"type": "text", "align": "center", "baseline": "middle", "fontSize": 26, "lineHeight": 29, "lineBreak": "\n", "yOffset": 21, "dx": 0},
    "encoding": {"x": {"datum": 0.5, "type": "quantitative", "scale": {"domain": [0, 1], "nice": false, "zero": false}}, "text": {"field": "name"}}},
   {"transform": [{"filter": "indexof(datum.name, '\\n') < 0"}],
    "mark": {"type": "text", "align": "left", "baseline": "middle", "fontSize": 25, "yOffset": 68, "dx": 7},
    "encoding": {"x": {"datum": 0, "type": "quantitative", "scale": {"domain": [0, 1], "nice": false, "zero": false}}, "text": {"field": "lo"}}},
   {"transform": [{"filter": "indexof(datum.name, '\\n') < 0"}],
    "mark": {"type": "text", "align": "center", "baseline": "middle", "fontSize": 25, "yOffset": 68, "dx": 2},
    "encoding": {"x": {"datum": 0.5, "type": "quantitative", "scale": {"domain": [0, 1], "nice": false, "zero": false}}, "text": {"field": "unit"}}},
   {"transform": [{"filter": "indexof(datum.name, '\\n') < 0"}],
    "mark": {"type": "text", "align": "right", "baseline": "middle", "fontSize": 25, "yOffset": 68, "dx": -2},
    "encoding": {"x": {"datum": 1, "type": "quantitative", "scale": {"domain": [0, 1], "nice": false, "zero": false}}, "text": {"field": "hi"}}},
   {"transform": [{"filter": "indexof(datum.name, '\\n') >= 0"}],
    "mark": {"type": "text", "align": "left", "baseline": "middle", "fontSize": 25, "yOffset": 82, "dx": 7},
    "encoding": {"x": {"datum": 0, "type": "quantitative", "scale": {"domain": [0, 1], "nice": false, "zero": false}}, "text": {"field": "lo"}}},
   {"transform": [{"filter": "indexof(datum.name, '\\n') >= 0"}],
    "mark": {"type": "text", "align": "center", "baseline": "middle", "fontSize": 25, "yOffset": 82, "dx": 2},
    "encoding": {"x": {"datum": 0.5, "type": "quantitative", "scale": {"domain": [0, 1], "nice": false, "zero": false}}, "text": {"field": "unit"}}},
   {"transform": [{"filter": "indexof(datum.name, '\\n') >= 0"}],
    "mark": {"type": "text", "align": "right", "baseline": "middle", "fontSize": 25, "yOffset": 82, "dx": -2},
    "encoding": {"x": {"datum": 1, "type": "quantitative", "scale": {"domain": [0, 1], "nice": false, "zero": false}}, "text": {"field": "hi"}}}
  ]},
 {"width": 479, "height": 355,
  "data": {"values": [
   {"curve": "HFLC", "name": "APS HR Near/Far Corrected Limestone\nPorosity (HFLC)", "unit": "(PU)", "lo": "100", "hi": "0"},
   {"curve": "HROM", "name": "HLDS HR Bulk Density (HROM)", "unit": "(G/C3)", "lo": "1", "hi": "3"},
   {"curve": "HBDC", "name": "HLDS HR Bulk Density Correction\n(HBDC)", "unit": "(G/C3)", "lo": "-0.25", "hi": "0.25"}]},
  "encoding": {
   "y": {"field": "curve", "type": "nominal", "bandPosition": 0, "scale": {"domain": ["HFLC", "HROM", "HBDC"], "paddingInner": 0, "paddingOuter": 0}, "axis": {"bandPosition": 0, "grid": true, "gridColor": "black", "gridWidth": 2, "domain": false, "ticks": false, "labels": false, "title": null}},
   "color": {"field": "curve", "type": "nominal", "scale": {"domain": ["HFLC", "HROM", "HBDC"], "range": ["#0000ff", "#ff0000", "#000000"]}, "legend": null}
  },
  "layer": [
   {"transform": [{"filter": "indexof(datum.name, '\\n') < 0"}],
    "mark": {"type": "rule", "yOffset": 51, "strokeCap": "butt"},
    "encoding": {
     "x": {"datum": 0, "type": "quantitative", "scale": {"domain": [0, 1], "nice": false, "zero": false}, "axis": {"values": [0], "grid": true, "gridColor": "black", "gridWidth": 2, "domain": false, "ticks": false, "labels": false, "title": null}},
     "x2": {"datum": 1},
     "strokeDash": {"field": "curve", "type": "nominal", "scale": {"domain": ["HFLC", "HROM", "HBDC"], "range": [[15, 10], [1, 0], [1.5, 7.2]]}, "legend": null},
     "strokeWidth": {"field": "curve", "type": "nominal", "scale": {"type": "ordinal", "domain": ["HFLC", "HROM", "HBDC"], "range": [3, 3, 1.5]}, "legend": null}}},
   {"transform": [{"filter": "indexof(datum.name, '\\n') >= 0"}],
    "mark": {"type": "rule", "yOffset": 65, "strokeCap": "butt"},
    "encoding": {
     "x": {"datum": 0, "type": "quantitative", "scale": {"domain": [0, 1], "nice": false, "zero": false}},
     "x2": {"datum": 1},
     "strokeDash": {"field": "curve", "type": "nominal", "scale": {"domain": ["HFLC", "HROM", "HBDC"], "range": [[15, 10], [1, 0], [1.5, 7.2]]}, "legend": null},
     "strokeWidth": {"field": "curve", "type": "nominal", "scale": {"type": "ordinal", "domain": ["HFLC", "HROM", "HBDC"], "range": [3, 3, 1.5]}, "legend": null}}},
   {"transform": [{"filter": "indexof(datum.name, '\\n') < 0"}],
    "mark": {"type": "text", "align": "center", "baseline": "middle", "fontSize": 26, "yOffset": 36, "dx": 3},
    "encoding": {"x": {"datum": 0.5, "type": "quantitative", "scale": {"domain": [0, 1], "nice": false, "zero": false}}, "text": {"field": "name"}}},
   {"transform": [{"filter": "indexof(datum.name, '\\n') >= 0"}],
    "mark": {"type": "text", "align": "center", "baseline": "middle", "fontSize": 26, "lineHeight": 29, "lineBreak": "\n", "yOffset": 21, "dx": 3},
    "encoding": {"x": {"datum": 0.5, "type": "quantitative", "scale": {"domain": [0, 1], "nice": false, "zero": false}}, "text": {"field": "name"}}},
   {"transform": [{"filter": "indexof(datum.name, '\\n') < 0"}],
    "mark": {"type": "text", "align": "left", "baseline": "middle", "fontSize": 25, "yOffset": 67, "dx": 9},
    "encoding": {"x": {"datum": 0, "type": "quantitative", "scale": {"domain": [0, 1], "nice": false, "zero": false}}, "text": {"field": "lo"}}},
   {"transform": [{"filter": "indexof(datum.name, '\\n') < 0"}],
    "mark": {"type": "text", "align": "center", "baseline": "middle", "fontSize": 25, "yOffset": 67, "dx": 3},
    "encoding": {"x": {"datum": 0.5, "type": "quantitative", "scale": {"domain": [0, 1], "nice": false, "zero": false}}, "text": {"field": "unit"}}},
   {"transform": [{"filter": "indexof(datum.name, '\\n') < 0"}],
    "mark": {"type": "text", "align": "right", "baseline": "middle", "fontSize": 25, "yOffset": 67, "dx": -1},
    "encoding": {"x": {"datum": 1, "type": "quantitative", "scale": {"domain": [0, 1], "nice": false, "zero": false}}, "text": {"field": "hi"}}},
   {"transform": [{"filter": "indexof(datum.name, '\\n') >= 0"}],
    "mark": {"type": "text", "align": "left", "baseline": "middle", "fontSize": 25, "yOffset": 82, "dx": 9},
    "encoding": {"x": {"datum": 0, "type": "quantitative", "scale": {"domain": [0, 1], "nice": false, "zero": false}}, "text": {"field": "lo"}}},
   {"transform": [{"filter": "indexof(datum.name, '\\n') >= 0"}],
    "mark": {"type": "text", "align": "center", "baseline": "middle", "fontSize": 25, "yOffset": 82, "dx": 3},
    "encoding": {"x": {"datum": 0.5, "type": "quantitative", "scale": {"domain": [0, 1], "nice": false, "zero": false}}, "text": {"field": "unit"}}},
   {"transform": [{"filter": "indexof(datum.name, '\\n') >= 0"}],
    "mark": {"type": "text", "align": "right", "baseline": "middle", "fontSize": 25, "yOffset": 82, "dx": -1},
    "encoding": {"x": {"datum": 1, "type": "quantitative", "scale": {"domain": [0, 1], "nice": false, "zero": false}}, "text": {"field": "hi"}}}
  ]}
]
}
